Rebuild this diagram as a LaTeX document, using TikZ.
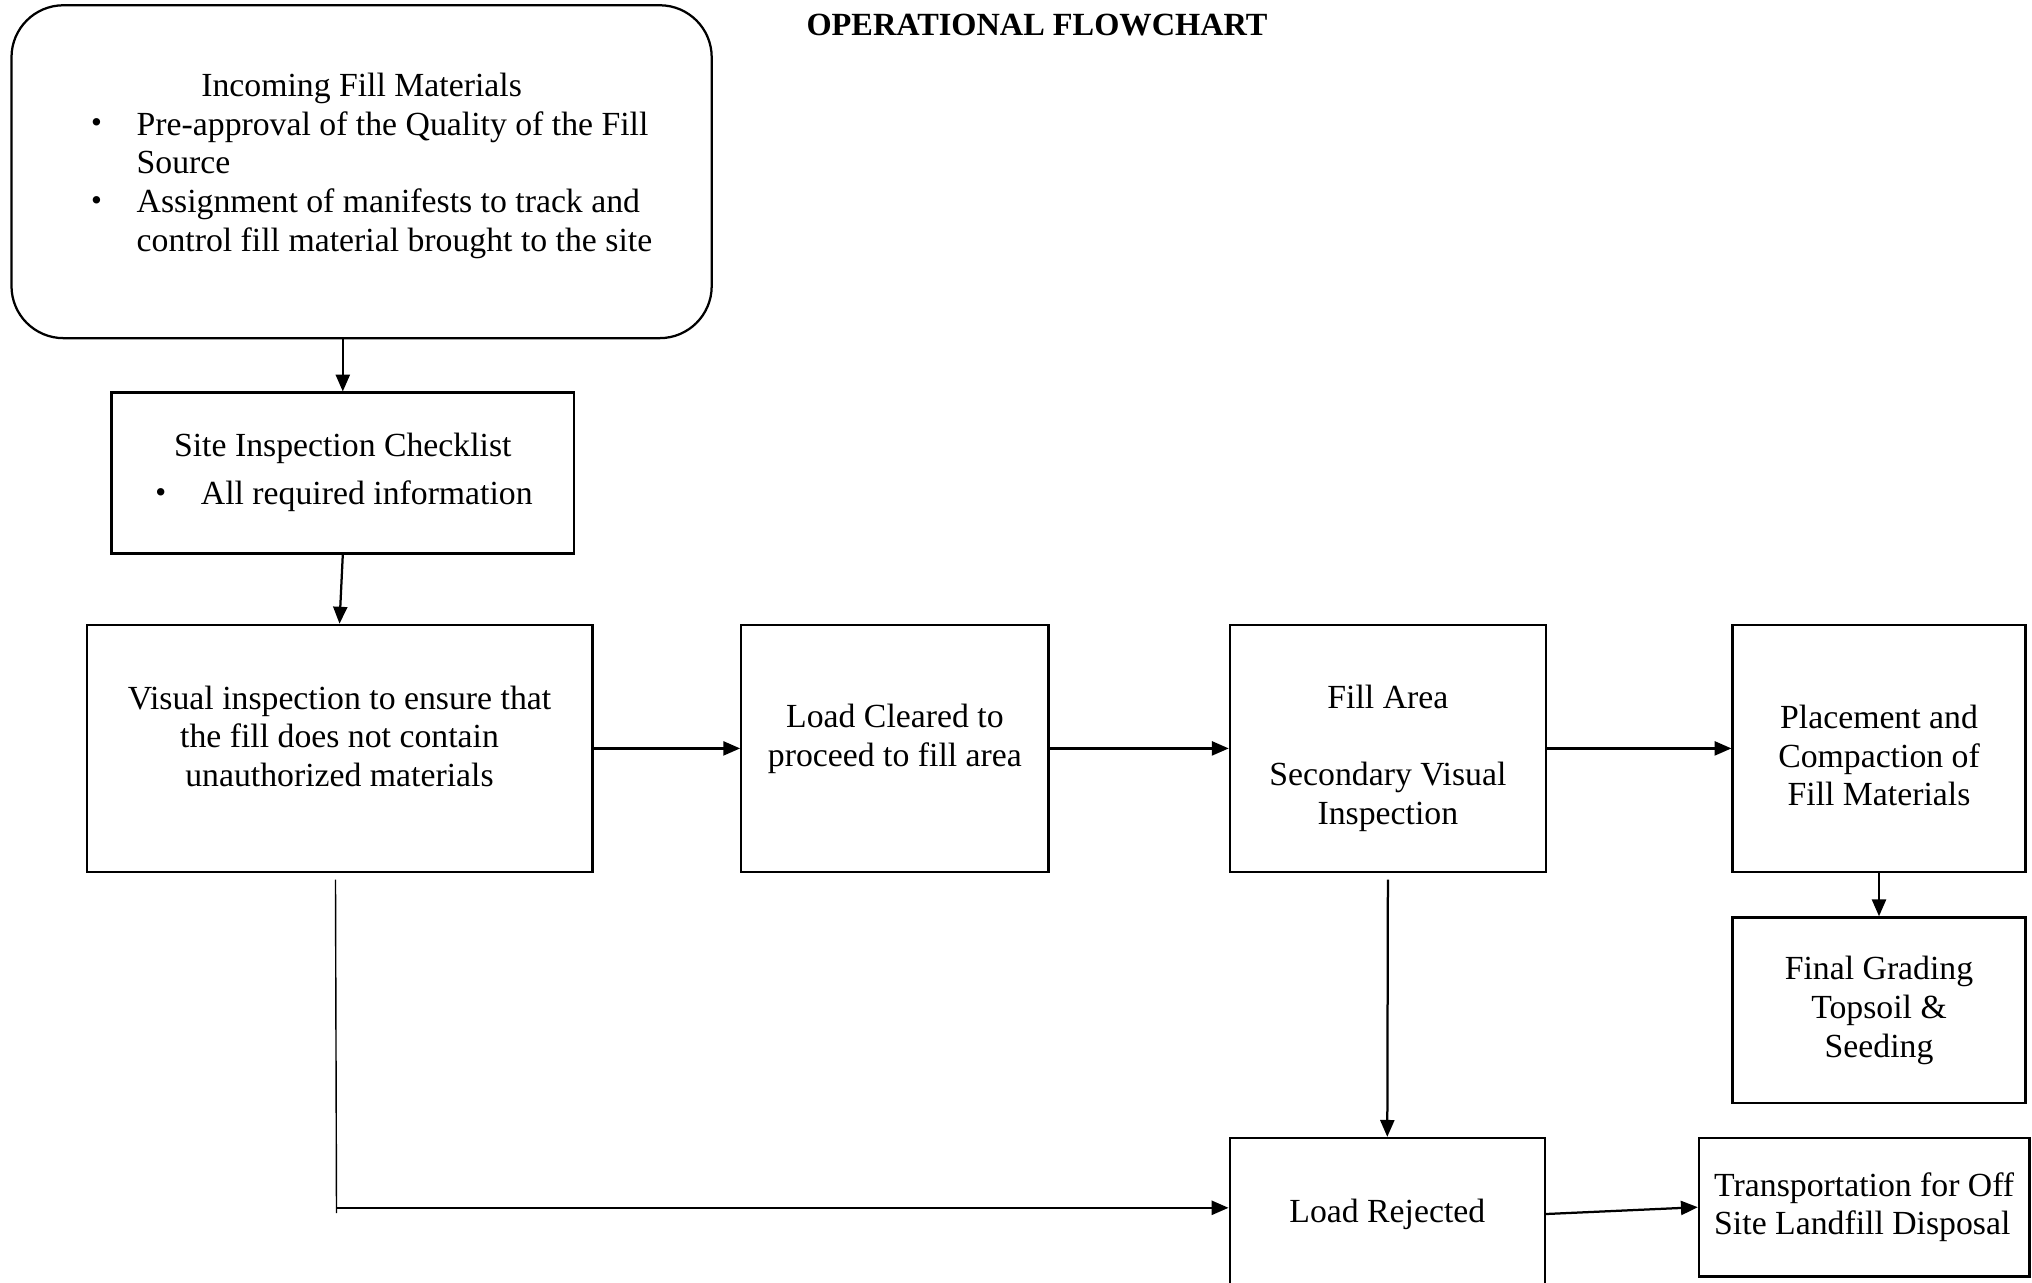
\documentclass[tikz,border=0pt]{standalone}
\usepackage{fontspec}
\setmainfont{Liberation Serif}
\usetikzlibrary{arrows.meta,positioning}
\newcommand{\fcbullet}{\hspace*{0.03cm}\raisebox{0.15ex}{\fontsize{11}{11}\selectfont\textbullet}}

\begin{document}
\begin{tikzpicture}[x=0.0125cm,y=-0.0125cm,
    box/.style={draw,line width=0.8pt,align=center,inner sep=0pt,
      font=\fontsize{12}{13.8}\selectfont},
    txt/.style={align=center,inner sep=0pt,font=\fontsize{12}{13.8}\selectfont},
    arr/.style={-{Triangle[length=6pt,width=5pt]},line width=0.8pt},
    thinline/.style={line width=0.5pt}]
    \useasboundingbox (0,0) rectangle (2032,1283);

    % Titulo
    \node[font=\fontsize{11.5}{13}\selectfont\bfseries] (title) at (1037,24.6) {OPERATIONAL FLOWCHART};

    % Entrada
    \node[box,rounded corners=0.65cm,minimum width=8.75cm,minimum height=4.16cm] (incoming) at (361.6,171.7) {};
    \node[txt,xshift=0.11cm,yshift=0.07cm] (incomingtxt) at (incoming.center) {%
        \begin{tabular}{@{}p{0.6cm}@{}l@{}}
        \multicolumn{2}{@{}c@{}}{\hspace*{-0.22cm}Incoming Fill Materials}\\
        \fcbullet & Pre-approval of the Quality of the Fill\\
                  & Source\\
        \fcbullet & Assignment of manifests to track and\\
                  & control fill material brought to the site
        \end{tabular}};
    \node[box,minimum width=5.78cm,minimum height=2.01cm] (site) at (342.8,473) {%
        \begin{tabular}{@{}p{0.6cm}@{}l@{}}
        \multicolumn{2}{@{}c@{}}{Site Inspection Checklist}\\[0.12cm]
        \fcbullet & All required information
        \end{tabular}};

    % Fila central
    \node[box,minimum width=6.32cm,minimum height=3.09cm] (visual) at (339.5,748.4) {};
    \node[txt,yshift=0.15cm] (visualtxt) at (visual.center)
        {Visual inspection to ensure that\\the fill does not contain\\unauthorized materials};
    \node[box,minimum width=3.84cm,minimum height=3.09cm] (cleared) at (894.9,748.4) {};
    \node[txt,yshift=0.12cm] (clearedtxt) at (cleared.center)
        {Load Cleared to\\proceed to fill area};
    \node[box,minimum width=3.95cm,minimum height=3.09cm] (fill) at (1387.9,748.4) {};
    \node[txt,yshift=-0.125cm] (filltxt) at (fill.center)
        {Fill Area\\[13.8pt]Secondary Visual\\Inspection};
    \node[box,minimum width=3.66cm,minimum height=3.09cm] (placement) at (1879,748.4) {};
    \node[txt,yshift=-0.09cm] (placementtxt) at (placement.center)
        {Placement and\\Compaction of\\Fill Materials};
    \node[box,minimum width=3.66cm,minimum height=2.32cm] (final) at (1879,1010.2)
        {Final Grading\\Topsoil \&\\Seeding};

    % Rechazo
    \node[box,minimum width=3.94cm,minimum height=1.9cm] (rejected) at (1387.3,1214) {Load Rejected};
    \node[box,align=left,minimum width=4.13cm,minimum height=1.73cm] (transport) at (1864.2,1207.2)
        {Transportation for Off\\Site Landfill Disposal};

    % Flechas
    \draw[arr] (site.north |- incoming.south) -- (site.north);
    \draw[arr] (site.south) -- (visual.north);
    \foreach \a/\b in {visual/cleared,cleared/fill,fill/placement} {
        \draw[arr] (\a.east) -- (\b.west);
    }
    \draw[arr] (placement.south) -- (final.north);
    \draw[arr] ([yshift=-0.08cm]fill.south) -- (rejected.north);
    \draw[arr] (rejected.east) -- (transport.west);

    % Linea de rechazo
    \coordinate (rejtop) at ([xshift=-0.05cm,yshift=-0.08cm]visual.south);
    \coordinate (rejbot) at (336.5,1213);
    \coordinate (rejturn) at (336.5,1207.8);
    \draw[thinline] (rejtop) -- (rejbot);
    \draw[arr] (rejturn) -- (rejturn -| rejected.west);
\end{tikzpicture}
\end{document}
